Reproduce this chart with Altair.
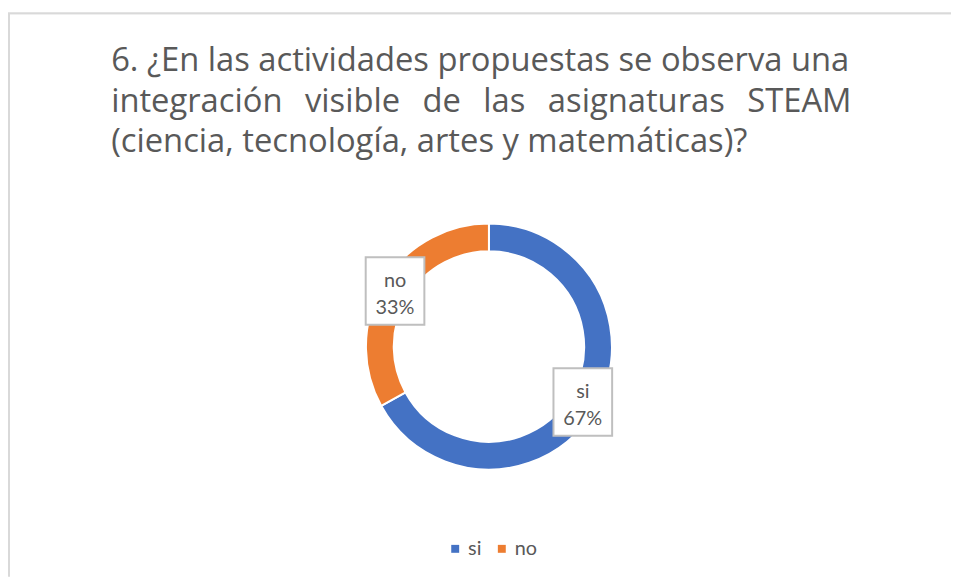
import altair as alt
import pandas as pd

categories = ["si", "no"]
values = [67, 33]
pct_labels = ["67%", "33%"]
colors = ["#4472C4", "#ED7D31"]

GAP = "\u00a0\u00a0\u2006"
title_lines = [
    "6. ¿En las actividades propuestas se observa una",
    GAP.join(["integración", "visible", "de", "las", "asignaturas", "STEAM"]),
    "(ciencia, tecnología, artes y matemáticas)?",
]

df = pd.DataFrame({
    "cat": categories,
    "value": values,
    "pct": pct_labels,
    "order": list(range(len(categories))),
})
title_df = pd.DataFrame({"line": title_lines, "idx": list(range(len(title_lines)))})

FONT = "Open Sans"
LFONT = "Lato"
TXT = "#595959"
W, H = 951, 571
CX, CY = 485, 339
R_OUT, R_IN, R_LAB = 124, 96, 110

base = alt.Chart(df)

arcs = base.mark_arc(radius=R_OUT, radius2=R_IN, stroke="white", strokeWidth=2).encode(
    theta=alt.Theta("value:Q", stack=True),
    color=alt.Color(
        "cat:N",
        scale=alt.Scale(domain=categories, range=colors),
        sort=categories,
        legend=alt.Legend(
            title=None, orient="none", direction="horizontal",
            legendX=441, legendY=533,
            symbolType="square", symbolSize=64, symbolStrokeWidth=0,
            labelFont=LFONT, labelFontSize=20, labelColor=TXT,
            columnPadding=10, labelOffset=3,
        ),
    ),
    order=alt.Order("order:Q"),
    x=alt.value(CX),
    y=alt.value(CY),
)

pos = base.transform_joinaggregate(total="sum(value)").transform_window(
    cum="sum(value)", sort=[alt.SortField("order")]
).transform_calculate(
    ang="2*PI*(datum.cum - datum.value/2)/datum.total",
    lx=f"{CX} + {R_LAB}*sin(datum.ang)",
    ly=f"{CY} - {R_LAB}*cos(datum.ang)",
    lab="datum.cat + '\\n' + datum.pct",
)

boxes = pos.mark_point(
    shape="M-0.87,-1L0.87,-1L0.87,1L-0.87,1Z",
    size=4624, filled=True, fill="white", stroke="#BFBFBF", strokeWidth=2, opacity=1,
).encode(
    x=alt.X("lx:Q", scale=None),
    y=alt.Y("ly:Q", scale=None),
)

labels = pos.mark_text(
    font=LFONT, fontSize=20, color=TXT, lineBreak="\n", lineHeight=27,
    align="center", baseline="middle", dy=-10,
).encode(
    x=alt.X("lx:Q", scale=None),
    y=alt.Y("ly:Q", scale=None),
    text="lab:N",
)

title = alt.Chart(title_df).transform_calculate(
    ty="61 + 41*datum.idx"
).mark_text(
    font=FONT, fontSize=33, color=TXT, align="left", baseline="alphabetic",
).encode(
    x=alt.value(104),
    y=alt.Y("ty:Q", scale=None),
    text="line:N",
)

frame_top = alt.Chart(df).mark_rule(color="#D9D9D9", strokeWidth=2).encode(
    x=alt.value(0), x2=alt.value(W), y=alt.value(3)
)
frame_left = alt.Chart(df).mark_rule(color="#D9D9D9", strokeWidth=2).encode(
    x=alt.value(1), y=alt.value(3), y2=alt.value(H)
)

chart = alt.layer(frame_top, frame_left, title, arcs, boxes, labels).properties(
    width=W,
    height=H,
    padding=0,
    autosize=alt.AutoSizeParams(type="none"),
).configure_view(stroke=None)

chart.save("out.html", embed_options={"renderer": "svg", "actions": False})
